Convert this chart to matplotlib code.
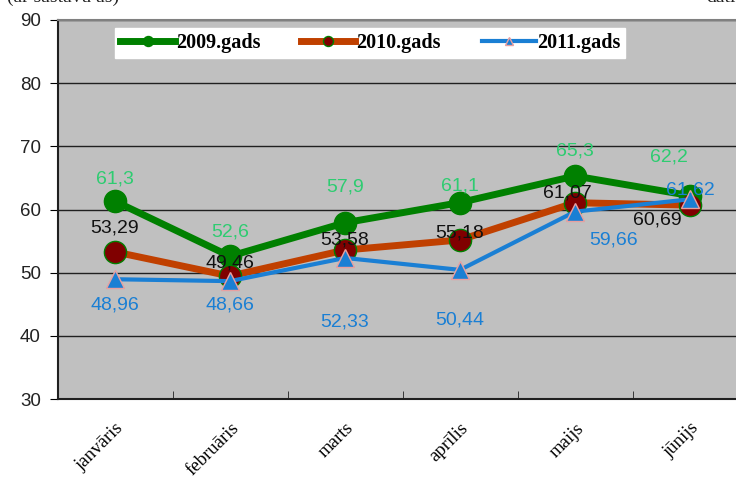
import numpy as np
import matplotlib.pyplot as plt

months = ['janvāris', 'februāris', 'marts', 'aprīlis', 'maijs', 'jūnijs']
v2009 = [61.3, 52.6, 57.9, 61.1, 65.3, 62.2]
v2010 = [53.29, 49.46, 53.58, 55.18, 61.07, 60.69]
v2011 = [48.96, 48.66, 52.33, 50.44, 59.66, 61.62]
labels2009 = ['61,3', '52,6', '57,9', '61,1', '65,3', '62,2']
labels2010 = ['53,29', '49,46', '53,58', '55,18', '61,07', '60,69']
labels2011 = ['48,96', '48,66', '52,33', '50,44', '59,66', '61,62']

# label offsets in pixels (dx, dy)
off2009 = [(0, 22), (0, 24), (0, 36), (0, 17), (0, 25), (-21, 39)]
off2010 = [(0, 24), (0, 13), (0, 10), (0, 7), (-8, 10), (-33, -15)]
off2011 = [(0, -26), (0, -24), (0, -64), (0, -50), (39, -28), (0, 9)]

plt.rcParams['font.family'] = ['Liberation Sans', 'DejaVu Sans']

fig = plt.figure(figsize=(7.36, 4.8), dpi=100)
ax = fig.add_axes([57.5 / 736, 1 - 399 / 480, 690 / 736, 379 / 480])
ax.set_facecolor('#c0c0c0')

x = np.arange(len(months))
ax.plot(x, v2009, color='#008000', lw=5, marker='o', ms=16,
        mfc='#008000', mec='#008000', label='2009.gads', zorder=3)
ax.plot(x, v2010, color='#c04000', lw=5, marker='o', ms=16,
        mfc='#800000', mec='#008000', mew=1, label='2010.gads', zorder=4)
ax.plot(x, v2011, color='#1a7fd4', lw=3, marker='^', ms=13,
        mfc='#1a7fd4', mec='#e8a0a0', mew=1, label='2011.gads', zorder=5)

for vals, labs, offs, col in [(v2009, labels2009, off2009, '#2ecc71'),
                              (v2010, labels2010, off2010, '#111111'),
                              (v2011, labels2011, off2011, '#1a7fd4')]:
    for i, (v, t, o) in enumerate(zip(vals, labs, offs)):
        ax.annotate(t, (x[i], v), xytext=o, textcoords='offset pixels',
                    ha='center', va='center', fontsize=14, color=col, zorder=6)

ax.set_xlim(-0.5, len(months) - 0.5)
ax.set_ylim(30, 90)
ax.set_yticks(np.arange(30, 91, 10))
ax.yaxis.grid(True, color='#202020', lw=1)
ax.set_axisbelow(True)
ax.tick_params(axis='y', labelsize=13.5, labelcolor='#222222', length=6, pad=6)

ax.set_xticks(x)
ax.set_xticklabels(months, rotation=45, ha='right', rotation_mode='anchor',
                   family='Liberation Serif', fontsize=13.5)
ax.tick_params(axis='x', length=0, pad=15)
ax.set_xticks(np.arange(0.5, len(months) - 0.5), minor=True)
ax.tick_params(axis='x', which='minor', direction='in', length=6, color='#202020')

for s in ['left', 'bottom']:
    ax.spines[s].set_color('#202020')
    ax.spines[s].set_linewidth(1.5)
ax.spines['top'].set_color('#808080')
ax.spines['top'].set_linewidth(1.5)
ax.spines['right'].set_visible(False)

leg = ax.legend(loc='lower left', bbox_to_anchor=(0.084, 0.9, 0.739, 0.087),
                mode='expand', ncol=3, frameon=True, fancybox=False,
                prop={'family': 'Liberation Serif', 'weight': 'bold', 'size': 14.5},
                handlelength=2.7, handletextpad=0.05, markerscale=0.45,
                borderaxespad=0, borderpad=0.25)
leg.get_frame().set_facecolor('white')
leg.get_frame().set_edgecolor('white')
leg.get_frame().set_alpha(1)

fig.text(0.01, 1.005, '(ar sastāvu ās)', fontsize=14, color='#222222',
         family='Liberation Serif', va='center')
fig.text(0.96, 1.005, 'dati', fontsize=14, color='#222222',
         family='Liberation Serif', va='center')

fig.savefig('out.png', dpi=100)
